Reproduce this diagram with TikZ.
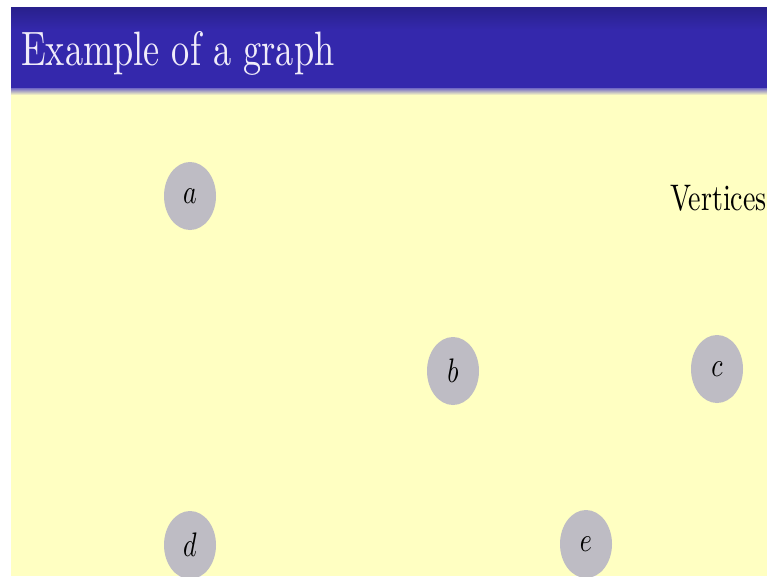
\documentclass[tikz,border=0pt]{standalone}
\usetikzlibrary{shapes.geometric}
\definecolor{bandblue}{RGB}{52,40,172}
\definecolor{banddark}{RGB}{40,32,140}
\definecolor{bgyellow}{RGB}{255,255,194}
\definecolor{vgrey}{RGB}{190,188,196}
\definecolor{titlewhite}{RGB}{240,236,250}
\newcommand{\bigtext}[3]{\scalebox{#1}[#2]{\fontsize{10}{12}\selectfont #3}}
\begin{document}
\begin{tikzpicture}[x=1pt,y=-1pt,
  vertex/.style={ellipse,fill=vgrey,draw=none,minimum width=52pt,minimum height=68pt,inner sep=0pt},
  label/.style={inner sep=0pt}]
\useasboundingbox (0,0) rectangle (767,576);
\fill[white] (0,0) rectangle (767,576);
\fill[bgyellow] (11,88) rectangle (767,576);
\shade[top color=banddark,bottom color=bandblue] (11,7) rectangle (767,30);
\fill[bandblue] (11,30) rectangle (767,88);
\shade[top color=bandblue!70!white,bottom color=bgyellow] (11,88) rectangle (767,95);
\node[anchor=base west,inner sep=0pt,text=titlewhite] (title) at (21,65) {\bigtext{3.63}{4.83}{Example of a graph}};
\node[label,anchor=east] (vlabel) at (767,198) {\bigtext{2.8}{3.7}{Vertices}};
\node[vertex] (a) at (190,196) {\bigtext{2.6}{3.4}{$a$}};
\node[vertex] (b) at (453,371) {\bigtext{2.6}{3.4}{$b$}};
\node[vertex] (c) at (717,369) {\bigtext{2.6}{3.4}{$c$}};
\node[vertex] (d) at (190,545) {\bigtext{2.6}{3.4}{$d$}};
\node[vertex] (e) at (586,544) {\bigtext{2.6}{3.4}{$e$}};
\end{tikzpicture}
\end{document}
